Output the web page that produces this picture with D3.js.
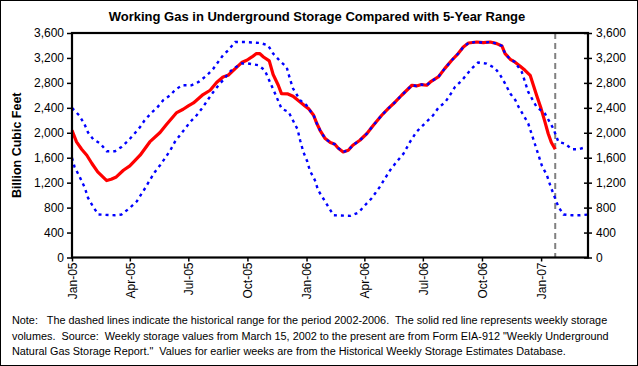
<!DOCTYPE html>
<html><head><meta charset="utf-8">
<script src="https://cdn.jsdelivr.net/npm/d3@7"></script>
<style>
body{margin:0;background:#fff}
svg{display:block}
text{font-family:"Liberation Sans",Arial,sans-serif;fill:#000}
</style>
</head><body>
<svg id="chart" width="638" height="366"></svg>
<script>
const titleText = "Working Gas in Underground Storage Compared with 5-Year Range";
const yAxisLabel = "Billion Cubic Feet";
const yTicks = [0, 400, 800, 1200, 1600, 2000, 2400, 2800, 3200, 3600];
const xTickDates = ["2005-01-01","2005-04-01","2005-07-01","2005-10-01","2006-01-01","2006-04-01","2006-07-01","2006-10-01","2007-01-01"];
const xDomain = ["2005-01-01","2007-03-15"];
const currentWeek = "2007-01-23";

const storageDates = ["2005-01-01","2005-01-08","2005-01-16","2005-01-24","2005-02-01","2005-02-10","2005-02-18","2005-02-24","2005-03-03","2005-03-11","2005-03-22","2005-04-01","2005-04-17","2005-05-02","2005-05-18","2005-05-28","2005-06-13","2005-06-23","2005-07-01","2005-07-09","2005-07-24","2005-08-04","2005-08-14","2005-08-24","2005-09-01","2005-09-12","2005-09-22","2005-09-30","2005-10-08","2005-10-15","2005-10-20","2005-10-26","2005-11-04","2005-11-10","2005-11-18","2005-11-23","2005-12-03","2005-12-11","2005-12-22","2005-12-30",
"2006-01-04","2006-01-12","2006-01-17","2006-01-22","2006-01-30","2006-02-07","2006-02-14","2006-02-19","2006-02-27","2006-03-07","2006-03-14","2006-03-25","2006-04-05","2006-04-15","2006-04-28","2006-05-08","2006-05-19","2006-05-29","2006-06-06","2006-06-14","2006-06-21","2006-06-29","2006-07-07","2006-07-14","2006-07-25","2006-08-04","2006-08-15","2006-08-25","2006-09-02","2006-09-10","2006-09-23","2006-10-03","2006-10-14","2006-10-24","2006-11-01","2006-11-06","2006-11-14","2006-11-21","2006-11-29","2006-12-07","2006-12-15","2006-12-20","2006-12-25","2007-01-01","2007-01-07","2007-01-12","2007-01-17","2007-01-23"];
const storageValues = [2040,1853,1736,1640,1507,1372,1292,1234,1255,1292,1399,1468,1640,1853,2004,2132,2324,2377,2430,2478,2613,2682,2805,2895,2922,3029,3126,3163,3216,3270,3270,3216,3152,2934,2762,2629,2623,2586,2494,2425,
2388,2281,2148,2040,1907,1843,1816,1757,1693,1720,1800,1880,1988,2121,2281,2388,2494,2602,2682,2762,2751,2773,2762,2826,2895,3029,3163,3270,3376,3440,3456,3446,3456,3430,3392,3270,3179,3136,3072,3002,2922,2762,2602,2388,2174,1988,1843,1736];

const rangeMaxDates = ["2005-01-01","2005-01-12","2005-01-20","2005-01-26","2005-02-03","2005-02-14","2005-02-24","2005-03-09","2005-03-19","2005-03-30","2005-04-06","2005-04-17","2005-04-24","2005-05-05","2005-05-13","2005-05-23","2005-06-03","2005-06-10","2005-06-21","2005-07-06","2005-07-17","2005-07-30","2005-08-09","2005-08-24","2005-09-01","2005-09-12","2005-09-25","2005-10-21","2005-11-02","2005-11-10","2005-11-21","2005-12-01","2005-12-06","2005-12-11","2005-12-22",
"2006-01-01","2006-01-04","2006-01-12","2006-01-17","2006-01-22","2006-01-30","2006-02-07","2006-02-14","2006-02-19","2006-02-27","2006-03-07","2006-03-14","2006-03-25","2006-04-05","2006-04-15","2006-04-28","2006-05-08","2006-05-19","2006-05-29","2006-06-06","2006-06-14","2006-06-21","2006-06-29","2006-07-07","2006-07-14","2006-07-25","2006-08-04","2006-08-15","2006-08-25","2006-09-02","2006-09-10","2006-09-23","2006-10-03","2006-10-14","2006-10-24","2006-11-01","2006-11-06","2006-11-14","2006-11-21","2006-12-02","2006-12-12","2006-12-25","2007-01-07","2007-01-20","2007-01-28","2007-02-07","2007-02-18","2007-02-28","2007-03-13"];
const rangeMaxValues = [2398,2281,2148,2004,1896,1827,1704,1704,1773,1880,1960,2093,2201,2324,2398,2522,2602,2682,2762,2762,2815,2922,3029,3243,3323,3456,3456,3440,3403,3270,3147,3056,2869,2709,2522,
2441,2388,2281,2148,2040,1907,1843,1816,1757,1693,1720,1800,1880,1988,2121,2281,2388,2494,2602,2682,2762,2751,2773,2762,2826,2895,3029,3163,3270,3376,3440,3456,3446,3456,3430,3392,3270,3179,3136,2975,2655,2414,2308,2068,1853,1827,1736,1736,1773];

const rangeMinDates = ["2005-01-01","2005-01-05","2005-01-13","2005-01-21","2005-01-26","2005-02-03","2005-02-11","2005-03-09","2005-03-19","2005-04-01","2005-04-12","2005-04-25","2005-05-02","2005-05-10","2005-05-18","2005-05-27","2005-06-03","2005-06-10","2005-06-18","2005-07-04","2005-07-14","2005-07-24","2005-08-01","2005-08-09","2005-08-17","2005-08-24","2005-09-01","2005-09-09","2005-09-22","2005-10-02","2005-10-18","2005-10-28","2005-11-05","2005-11-13","2005-11-23","2005-12-04","2005-12-18","2005-12-22","2005-12-27",
"2006-01-02","2006-01-06","2006-01-14","2006-01-19","2006-01-27","2006-02-04","2006-02-12","2006-03-10","2006-03-23","2006-04-02","2006-04-12","2006-04-25","2006-05-03","2006-05-11","2006-05-21","2006-06-01","2006-06-11","2006-06-21","2006-07-04","2006-07-17","2006-07-25","2006-08-05","2006-08-12","2006-08-20","2006-08-31","2006-09-07","2006-09-15","2006-09-25","2006-10-08","2006-10-21","2006-10-29","2006-11-06","2006-11-14","2006-11-22","2006-11-27","2006-12-04","2006-12-12","2006-12-23","2006-12-28",
"2007-01-02","2007-01-10","2007-01-16","2007-01-23","2007-01-28","2007-02-05","2007-02-18","2007-03-03","2007-03-15"];
const rangeMinValues = [1597,1452,1292,1116,955,811,689,678,689,795,902,1116,1239,1372,1479,1612,1720,1853,1960,2174,2281,2414,2538,2655,2762,2842,2949,3029,3110,3110,3083,3002,2815,2629,2388,2334,2056,1880,1693,
1544,1399,1239,1079,946,811,678,667,721,838,946,1132,1266,1399,1532,1667,1853,2014,2148,2281,2398,2494,2602,2735,2842,2933,3029,3126,3110,3040,2933,2789,2629,2522,2414,2292,2148,1800,1640,
1479,1319,1132,946,811,689,678,678,689];

const noteLines = [
  "Note:   The dashed lines indicate the historical range for the period 2002-2006.  The solid red line represents weekly storage",
  "volumes.  Source:  Weekly storage values from March 15, 2002 to the present are from Form EIA-912 \"Weekly Underground",
  "Natural Gas Storage Report.\"  Values for earlier weeks are from the Historical Weekly Storage Estimates Database."
];

const W = 638, H = 366;
const plot = {left: 72, right: 588, top: 33, bottom: 257.5};
const parse = d3.timeParse("%Y-%m-%d");

const svg = d3.select("#chart");
svg.append("rect").attr("x",0.5).attr("y",0.5).attr("width",W-1).attr("height",H-1)
  .attr("fill","#fff").attr("stroke","#000").attr("stroke-width",1);

const x = d3.scaleTime().domain(xDomain.map(parse)).range([plot.left, plot.right]);
const y = d3.scaleLinear().domain([0, 3600]).range([plot.bottom, plot.top]);

// title
svg.append("text").attr("x", 317).attr("y", 21).attr("text-anchor","middle")
  .style("font-size","13px").style("font-weight","bold").text(titleText);

// y label
svg.append("text").attr("transform", `translate(21,${(plot.top+plot.bottom)/2}) rotate(-90)`)
  .attr("text-anchor","middle").style("font-size","12.5px").style("font-weight","bold").text(yAxisLabel);

const fmt = d3.format(",");
const gl = svg.append("g").attr("transform",`translate(${plot.left},0)`)
  .call(d3.axisLeft(y).tickValues(yTicks).tickSize(5).tickPadding(3).tickFormat(fmt));
gl.select(".domain").remove();
gl.selectAll("text").style("font-size","12px").style("font-family","'Liberation Sans',Arial,sans-serif");
gl.selectAll("line").attr("stroke-width",1.5);

const gr = svg.append("g").attr("transform",`translate(${plot.right},0)`)
  .call(d3.axisRight(y).tickValues(yTicks).tickSize(4).tickPadding(4).tickFormat(fmt));
gr.select(".domain").remove();
gr.selectAll("line").attr("x1",-4).attr("stroke-width",1.5);
gr.selectAll("text").style("font-size","12px").style("font-family","'Liberation Sans',Arial,sans-serif");

const gb = svg.append("g").attr("transform",`translate(0,${plot.bottom})`)
  .call(d3.axisBottom(x).tickValues(xTickDates.map(parse)).tickSize(4).tickFormat(d3.timeFormat("%b-%y")));
gb.select(".domain").remove();
gb.selectAll("line").attr("stroke-width",1.5);
gb.selectAll("text").style("font-size","12px").style("font-family","'Liberation Sans',Arial,sans-serif")
  .attr("transform","rotate(-90)").attr("x",-5).attr("y",0).attr("dy","0.35em").style("text-anchor","end");

const line = d3.line().x(d => x(d[0])).y(d => y(d[1]));
const storage = storageDates.map((d,i) => [parse(d), storageValues[i]]);
const rMax = rangeMaxDates.map((d,i) => [parse(d), rangeMaxValues[i]]);
const rMin = rangeMinDates.map((d,i) => [parse(d), rangeMinValues[i]]);

svg.append("line").attr("x1", x(parse(currentWeek))).attr("x2", x(parse(currentWeek)))
  .attr("y1", plot.top).attr("y2", plot.bottom)
  .attr("stroke","#808080").attr("stroke-width",2).attr("stroke-dasharray","6,4");

svg.append("path").datum(storage).attr("d", line).attr("fill","none")
  .attr("stroke","#ff0000").attr("stroke-width",3.2).attr("stroke-linejoin","round");
[rMax, rMin].forEach(s => {
  svg.append("path").datum(s).attr("d", line).attr("fill","none")
    .attr("stroke","#0000ff").attr("stroke-width",2.4).attr("stroke-dasharray","3,4");
});

svg.append("rect").attr("x", plot.left).attr("y", plot.top)
  .attr("width", plot.right-plot.left).attr("height", plot.bottom-plot.top)
  .attr("fill","none").attr("stroke","#000").attr("stroke-width",2.2);

svg.append("g").selectAll("text").data(noteLines).join("text")
  .attr("x", 12).attr("y", (d,i) => 324 + i*15.5)
  .attr("xml:space","preserve").style("white-space","pre")
  .style("font-size","10.85px").text(d => d);
</script>
</body></html>
